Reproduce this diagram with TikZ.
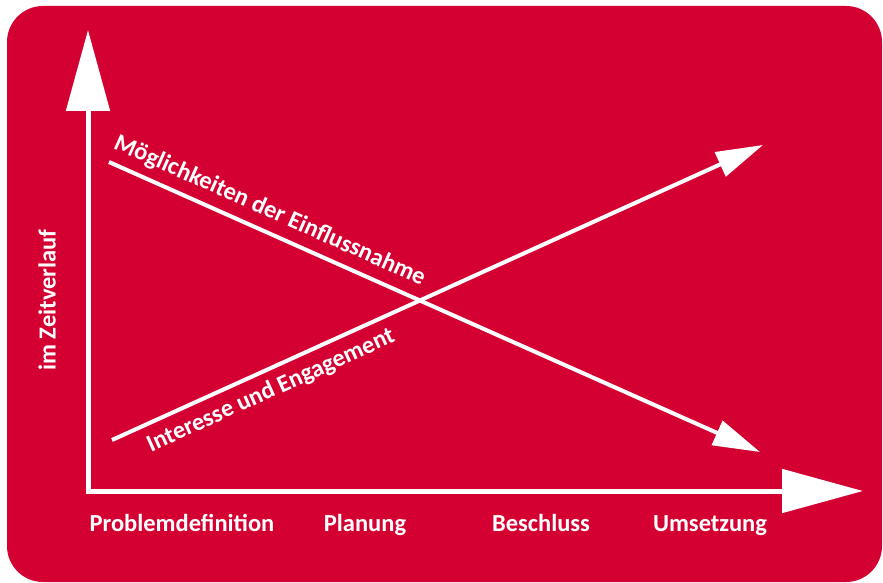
\documentclass[tikz,border=0pt]{standalone}
\usepackage{fontspec}
\setmainfont{Carlito}
\usetikzlibrary{arrows.meta}
\definecolor{panelred}{RGB}{213,0,50}
\begin{document}
\begin{tikzpicture}[x=1pt,y=-1pt,
  axis/.style={white,line width=5pt,-{Triangle[length=81pt,width=43pt]}},
  trend/.style={white,line width=4pt,-{Triangle[length=47pt,width=26pt]}},
  lbl/.style={text=white,font=\bfseries\fontsize{24.5}{28}\selectfont,inner sep=0pt},
  stage/.style={lbl,anchor=base}]
  \useasboundingbox (0,0) rectangle (883,583);
  % background panel
  \fill[panelred,rounded corners=36pt] (7,6) rectangle (882,582);
  % axes
  \coordinate (origin) at (88,490);
  \coordinate (ytip) at (88,30);
  \coordinate (xtip) at (863,491);
  \draw[axis] (88,492.5) -- (ytip);
  \draw[axis] (85.5,491) -- (xtip);
  % trend lines
  \coordinate (mstart) at (109,162);
  \coordinate (mend) at (760,452);
  \coordinate (istart) at (112,440);
  \coordinate (iend) at (763,145);
  \draw[trend] (mstart) -- (mend)
    node[lbl,pos=0.234,sloped,anchor=south,yshift=8pt] (mlabel) {Möglichkeiten der Einflussnahme};
  \draw[trend] (istart) -- (iend)
    node[lbl,pos=0.231,sloped,anchor=north,yshift=-8pt] (ilabel) {Interesse und Engagement};
  % axis labels
  \node[lbl,rotate=90] (ylabel) at (47,300) {im Zeitverlauf};
  \node[stage] (s1) at (182,531) {Problemdefinition};
  \node[stage] (s2) at (365,531) {Planung};
  \node[stage] (s3) at (541,531) {Beschluss};
  \node[stage] (s4) at (710,531) {Umsetzung};
\end{tikzpicture}
\end{document}
